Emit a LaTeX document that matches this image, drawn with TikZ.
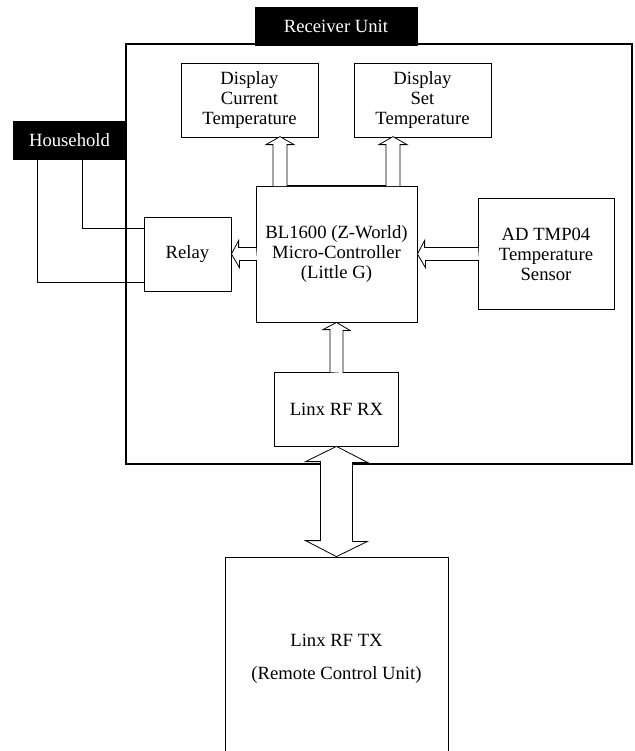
\documentclass[tikz,border=0pt]{standalone}
\usepackage{fontspec}
\setmainfont{Liberation Serif}
\usetikzlibrary{calc}

\begin{document}
\begin{tikzpicture}[x=0.75pt, y=-0.75pt, line width=0.6pt,
  blk/.style 2 args={draw, minimum width=#1*0.75pt, minimum height=#2*0.75pt, inner sep=0pt, align=center, font=\fontsize{14}{15}\selectfont},
  tag/.style={blk={#1}{38}, fill=black, text=white}]
  \clip (0,0) rectangle (635,751);
  % receiver unit frame
  \node[blk={506}{420}, line width=0.8pt] (unit) at (379,254) {};
  \node[tag={162}] (recv) at (336,26) {Receiver Unit};
  \node[tag={113}] (household) at (69.5,140) {Household};
  % blocks
  \node[blk={137}{74}] (dcur) at (249.5,100) {Display\\Current\\Temperature};
  \node[blk={137}{74}] (dset) at (422.5,100) {Display\\Set\\Temperature};
  \node[blk={161}{136}] (mcu) at (336.5,254) {BL1600 (Z-World)\\Micro-Controller\\(Little G)};
  \node[blk={87}{74}] (relay) at (187.5,254) {Relay};
  \node[blk={136}{111}] (sensor) at (546,254) {AD TMP04\\Temperature\\Sensor};
  \node[blk={124}{74}] (rx) at (336.5,409) {Linx RF RX};
  \node[blk={223}{203}] (tx) at (336.5,658.5) {Linx RF TX\\[10pt](Remote Control Unit)};
  % block arrows
  \draw[fill=white] ($(mcu.north)+(-63.5,0.6)$) -- ++(0,-41.6) -- ++(-7,0) -- ++(14,-8) -- ++(14,8) -- ++(-7,0)
    -- ++(0,41) -- ++(99,0) -- ++(0,-41) -- ++(-7,0) -- ++(14,-8) -- ++(14,8) -- ++(-7,0) -- ++(0,41.6);
  \draw[fill=white] ($(mcu.west)+(0.6,-6.5)$) -- ++(-17.6,0) -- ++(0,-7) -- (relay.east) -- ++(8,13.5) -- ++(0,-7) -- ++(17.6,0);
  \draw[fill=white] ($(sensor.west)+(0.6,-6.5)$) -- ++(-53.6,0) -- ++(0,-7) -- (mcu.east) -- ++(8,13.5) -- ++(0,-7) -- ++(53.6,0);
  \draw[fill=white] ($(rx.north)+(-6.5,0.6)$) -- ++(0,-42.6) -- ++(-7,0) -- (mcu.south) -- ++(13.5,8) -- ++(-7,0) -- ++(0,42.6);
  \draw[fill=white] (rx.south) -- ++(31,16) -- ++(-15,0) -- ++(0,79) -- ++(15,0) -- (tx.north)
    -- ++(-31,-16) -- ++(15,0) -- ++(0,-79) -- ++(-15,0) -- cycle;
  % household wiring
  \draw ($(household.south)+(-32.5,0)$) |- ($(relay.west)+(0,28)$);
  \draw ($(household.south)+(12.5,0)$) |- ($(relay.west)+(0,-26)$);
\end{tikzpicture}
\end{document}
